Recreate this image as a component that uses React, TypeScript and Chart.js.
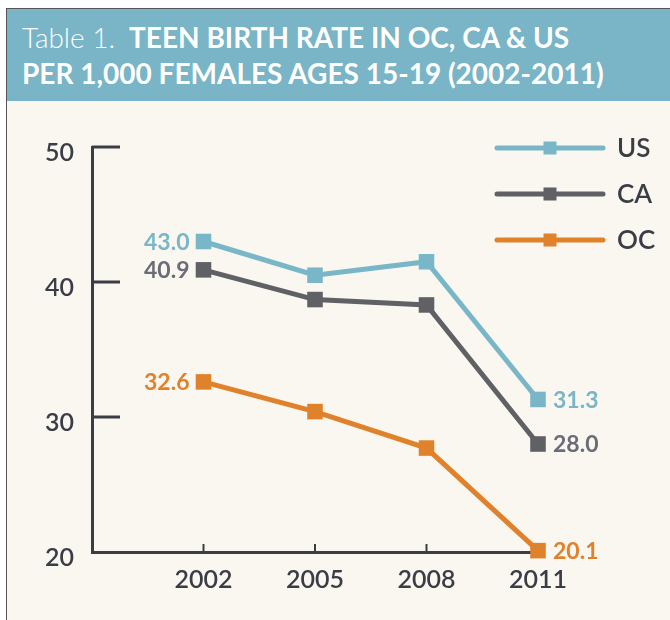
import React, { useEffect, useRef } from "react";
import { Chart, registerables } from "chart.js";

Chart.register(...registerables);

const years = [2002, 2005, 2008, 2011];
const usValues = [43.0, 40.5, 41.5, 31.3];
const caValues = [40.9, 38.7, 38.3, 28.0];
const ocValues = [32.6, 30.4, 27.7, 20.1];
const seriesNames = ["US", "CA", "OC"];
const yTickValues = [20, 30, 40, 50];

const lineColors = ["#79b6c8", "#606165", "#e0812b"];
const labelColors = ["#79b6c8", "#6a6c77", "#e0812b"];
const axisColor = "#3b3d46";
const FONT = "Lato, 'Open Sans', sans-serif";

const axisTicksPlugin = {
  id: "axisTicks",
  beforeDatasetsDraw(chart: any) {
    const { ctx, chartArea, scales } = chart;
    const x = scales.x;
    const y = scales.y;
    ctx.save();
    ctx.strokeStyle = axisColor;
    ctx.lineWidth = 3;
    yTickValues.forEach((v) => {
      if (v === yTickValues[0]) return;
      const py = y.getPixelForValue(v);
      ctx.beginPath();
      ctx.moveTo(chartArea.left, py);
      ctx.lineTo(chartArea.left + 28, py);
      ctx.stroke();
    });
    ctx.lineWidth = 2;
    years.forEach((yr) => {
      const px = x.getPixelForValue(yr);
      ctx.beginPath();
      ctx.moveTo(px, chartArea.bottom);
      ctx.lineTo(px, chartArea.bottom - 8);
      ctx.stroke();
    });
    ctx.restore();
  },
};

const labelsLegendPlugin = {
  id: "labelsLegend",
  afterDatasetsDraw(chart: any) {
    const { ctx } = chart;
    ctx.save();
    ctx.textBaseline = "middle";
    chart.data.datasets.forEach((ds: any, i: number) => {
      const meta = chart.getDatasetMeta(i);
      const first = meta.data[0];
      const last = meta.data[meta.data.length - 1];
      ctx.fillStyle = labelColors[i];
      ctx.font = `bold 23px ${FONT}`;
      ctx.textAlign = "right";
      ctx.fillText(ds.data[0].y.toFixed(1), first.x - 14, first.y + 1);
      ctx.textAlign = "left";
      ctx.fillText(ds.data[ds.data.length - 1].y.toFixed(1), last.x + 15, last.y + 1);

      // legend
      const ly = 47 + i * 46;
      const lx0 = chart.width - 173;
      const lx1 = chart.width - 67;
      ctx.strokeStyle = lineColors[i];
      ctx.lineWidth = 5;
      ctx.lineCap = "round";
      ctx.beginPath();
      ctx.moveTo(lx0, ly);
      ctx.lineTo(lx1, ly);
      ctx.stroke();
      ctx.fillStyle = lineColors[i];
      const mx = (lx0 + lx1) / 2;
      ctx.fillRect(mx - 6.5, ly - 6.5, 13, 13);
      ctx.fillStyle = axisColor;
      ctx.font = `600 26px ${FONT}`;
      ctx.textAlign = "left";
      ctx.fillText(ds.label, chart.width - 53, ly + 1);
    });
    ctx.restore();
  },
};

function ChartCanvas() {
  const ref = useRef<HTMLCanvasElement>(null);
  useEffect(() => {
    if (!ref.current) return;
    const series = [usValues, caValues, ocValues];
    const chart = new Chart(ref.current, {
      type: "line",
      data: {
        datasets: series.map((vals, i) => ({
          label: seriesNames[i],
          data: years.map((yr, j) => ({ x: yr, y: vals[j] })),
          borderColor: lineColors[i],
          backgroundColor: lineColors[i],
          borderWidth: 5,
          pointStyle: "rect",
          pointRadius: 11,
          pointBorderWidth: 0,
          tension: 0,
          clip: false,
        })),
      },
      options: {
        animation: false,
        responsive: false,
        maintainAspectRatio: false,
        layout: { padding: { top: 46, right: 132, left: 0, bottom: 28 } },
        plugins: {
          legend: { display: false },
          tooltip: { enabled: false },
        },
        scales: {
          x: {
            type: "linear",
            min: 1999,
            max: 2011,
            afterBuildTicks: (axis: any) => {
              axis.ticks = years.map((v) => ({ value: v }));
            },
            afterFit: (scale: any) => {
              scale.height = 40;
            },
            grid: { display: false, drawTicks: false },
            border: { display: true, color: axisColor, width: 3 },
            ticks: {
              padding: 13,
              color: axisColor,
              font: { family: FONT, size: 25, weight: "600" },
              callback: (v: any) => String(v),
              maxRotation: 0,
              autoSkip: false,
            },
          },
          y: {
            min: 20,
            max: 50,
            afterBuildTicks: (axis: any) => {
              axis.ticks = yTickValues.map((v) => ({ value: v }));
            },
            afterFit: (scale: any) => {
              scale.width = 85;
            },
            grid: { display: false, drawTicks: false },
            border: { display: true, color: axisColor, width: 3 },
            ticks: {
              padding: 18,
              labelOffset: 6,
              color: axisColor,
              font: { family: FONT, size: 25, weight: "600" },
            },
          },
        },
      },
      plugins: [axisTicksPlugin, labelsLegendPlugin],
    } as any);
    return () => chart.destroy();
  }, []);
  return <canvas ref={ref} width={663} height={519} style={{ display: "block", width: 663, height: 519 }} />;
}

export default function App() {
  return (
    <div
      style={{
        position: "absolute",
        left: 6,
        top: 8,
        width: 664,
        height: 612,
        boxSizing: "border-box",
        borderTop: "1px solid #555",
        borderLeft: "1px solid #555",
        background: "#f9f7ef",
        overflow: "hidden",
      }}
    >
      <div
        style={{
          height: 92,
          background: "#79b5c6",
          color: "#ffffff",
          fontFamily: FONT,
          fontSize: 28,
          lineHeight: "36px",
          paddingTop: 10,
          paddingLeft: 15,
          boxSizing: "border-box",
          whiteSpace: "nowrap",
        }}
      >
        <div>
          <span style={{ fontWeight: 300 }}>Table 1.</span>
          <span style={{ fontWeight: 700, marginLeft: 14 }}>TEEN BIRTH RATE IN OC, CA &amp; US</span>
        </div>
        <div style={{ fontWeight: 700 }}>PER 1,000 FEMALES AGES 15-19 (2002-2011)</div>
      </div>
      <ChartCanvas />
    </div>
  );
}
